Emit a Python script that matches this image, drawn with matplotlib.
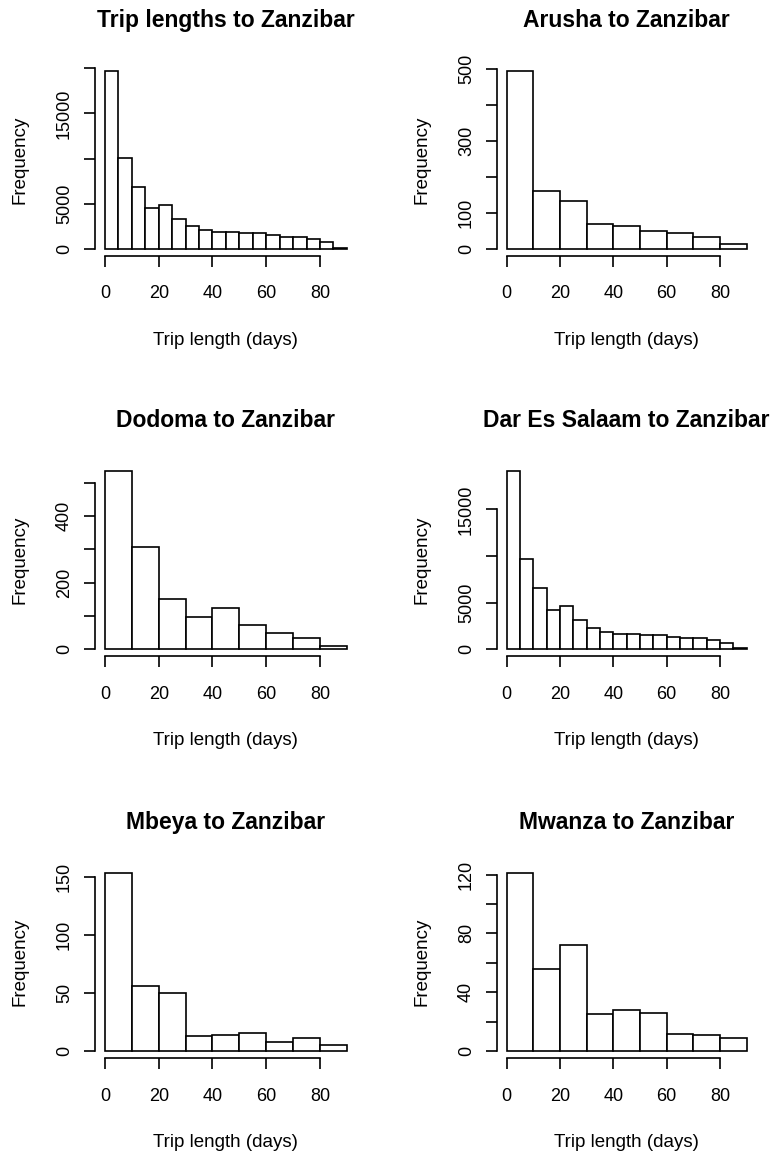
import matplotlib
matplotlib.use("Agg")
import matplotlib.pyplot as plt

plt.rcParams['font.family'] = ['Liberation Sans', 'DejaVu Sans']

titles = ["Trip lengths to Zanzibar", "Arusha to Zanzibar",
          "Dodoma to Zanzibar", "Dar Es Salaam to Zanzibar",
          "Mbeya to Zanzibar", "Mwanza to Zanzibar"]

# bin edges (days)
edges_5 = [0, 5, 10, 15, 20, 25, 30, 35, 40, 45, 50, 55, 60, 65, 70, 75, 80, 85, 90]
edges_10 = [0, 10, 20, 30, 40, 50, 60, 70, 80, 90]

# counts per bin
all_counts = [19720, 10020, 6820, 4500, 4900, 3280, 2510, 2100, 1920,
              1920, 1730, 1730, 1510, 1290, 1290, 1110, 740, 150]
arusha = [494, 162, 133, 68, 63, 49, 43, 33, 13]
dodoma = [535, 307, 151, 96, 123, 74, 48, 33, 10]
dar = [19110, 9640, 6540, 4210, 4610, 3110, 2290, 1890, 1680,
       1680, 1500, 1500, 1360, 1180, 1180, 960, 710, 180]
mbeya = [153, 56, 50, 13, 14, 16, 8, 11, 5]
mwanza = [121, 56, 72, 25, 28, 26, 12, 11, 9]

counts = [all_counts, arusha, dodoma, dar, mbeya, mwanza]
edges = [edges_5, edges_10, edges_10, edges_5, edges_10, edges_10]

# y ticks and which of them get a label (R drops overlapping ones)
yticks = [[0, 5000, 10000, 15000, 20000],
          [0, 100, 200, 300, 400, 500],
          [0, 100, 200, 300, 400, 500],
          [0, 5000, 10000, 15000],
          [0, 50, 100, 150],
          [0, 20, 40, 60, 80, 100, 120]]
ylabels = [["0", "5000", "", "15000", ""],
           ["0", "100", "", "300", "", "500"],
           ["0", "", "200", "", "400", ""],
           ["0", "5000", "", "15000"],
           ["0", "50", "100", "150"],
           ["0", "", "40", "", "80", "", "120"]]
xticks = [0, 20, 40, 60, 80]

W, H = 779, 1153
fig = plt.figure(figsize=(W / 100, H / 100), dpi=100)

col_left = [95.3, 497.1]
col_width = [261.2, 259.2]
row_bottom = [256.1, 656.4, 1058.4]
row_height = 192.5

for i in range(6):
    r, c = divmod(i, 2)
    ax = fig.add_axes([col_left[c] / W, 1 - row_bottom[r] / H,
                       col_width[c] / W, row_height / H])
    e = edges[i]
    h = counts[i]
    widths = [e[k + 1] - e[k] for k in range(len(h))]
    ax.bar(e[:-1], h, width=widths, align='edge', color='white',
           edgecolor='black', linewidth=1.2)
    top = max(h)
    ax.set_xlim(-0.04 * 90, 90 * 1.04)
    ax.set_ylim(-0.04 * top, 1.04 * top)

    for s in ['top', 'right']:
        ax.spines[s].set_visible(False)
    ax.spines['bottom'].set_bounds(0, 80)
    ax.spines['left'].set_bounds(yticks[i][0], yticks[i][-1])
    for s in ['bottom', 'left']:
        ax.spines[s].set_linewidth(1.2)

    ax.set_xticks(xticks)
    ax.set_xticklabels([str(v) for v in xticks])
    ax.set_yticks(yticks[i])
    ax.set_yticklabels(ylabels[i])
    ax.tick_params(axis='both', length=8, width=1.2, labelsize=13)
    ax.tick_params(axis='x', pad=13)
    ax.tick_params(axis='y', pad=8, labelrotation=90)
    for lab in ax.get_yticklabels():
        lab.set_va('center')

    ax.set_title(titles[i], fontsize=16.5, fontweight='bold', y=1.19, pad=0)
    ax.set_xlabel("Trip length (days)", fontsize=13.5)
    ax.xaxis.set_label_coords(0.5, -0.462)
    ax.xaxis.label.set_va('baseline')
    ax.set_ylabel("Frequency", fontsize=13.5)
    ax.yaxis.set_label_coords(-0.29, 0.5)
    ax.yaxis.label.set_va('center')
    ax.patch.set_visible(False)

fig.savefig("out.png", dpi=100, facecolor='white')
